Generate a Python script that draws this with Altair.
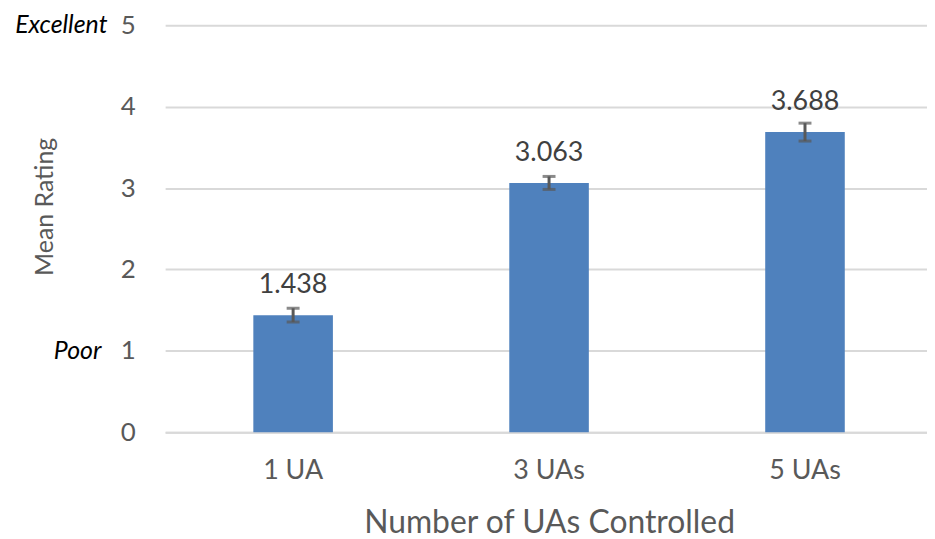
import altair as alt
import pandas as pd

categories = ["1 UA", "3 UAs", "5 UAs"]
means = [1.438, 3.063, 3.688]
errors = [0.085, 0.08, 0.11]
label_text = ["1.438", "3.063", "3.688"]

anno_labels = ["Excellent", "Poor"]
anno_values = [5, 1]

df = pd.DataFrame({"cat": categories, "mean": means, "err": errors, "lbl": label_text})
df["lo"] = df["mean"] - df["err"]
df["hi"] = df["mean"] + df["err"]

FONT = "Lato"
GRAY = "#595959"

xscale = alt.Scale(paddingInner=0.0, paddingOuter=0.0, range=[0, 772])
x = alt.X("cat:N", sort=categories, title="Number of UAs Controlled", scale=xscale,
          axis=alt.Axis(labelAngle=0, labelFontSize=27, labelColor=GRAY, labelFont=FONT,
                        labelPadding=26, ticks=False, domain=True, domainColor="#D9D9D9",
                        domainWidth=2, titleFontSize=32, titleFont=FONT, titleColor=GRAY,
                        titleFontWeight="normal", titlePadding=24))
y = alt.Y("mean:Q", title="Mean Rating",
          scale=alt.Scale(domain=[0, 5], nice=False),
          axis=alt.Axis(values=[0, 1, 2, 3, 4, 5], format="d", labelFontSize=26,
                        labelColor=GRAY, labelFont=FONT, labelPadding=30, ticks=False,
                        domain=False, grid=True, gridColor="#D9D9D9", gridWidth=2,
                        titleFontSize=25, titleFont=FONT, titleColor=GRAY,
                        titleFontWeight="normal", titleX=-121, titleY=182,
                        titleBaseline="middle", titleAlign="center"))

base = alt.Chart(df)
xc = alt.X("cat:N", sort=categories, scale=xscale)
bars = base.mark_bar(size=80, color="#4F81BD").encode(x=x, y=y)
rule = base.mark_rule(color=GRAY, strokeWidth=3).encode(x=xc, y="lo:Q", y2="hi:Q")
cap_lo = base.mark_tick(color=GRAY, thickness=3, size=13, orient="horizontal").encode(
    x=xc, y="lo:Q")
cap_hi = base.mark_tick(color=GRAY, thickness=3, size=13, orient="horizontal").encode(
    x=xc, y="hi:Q")
labels = base.mark_text(fontSize=27, font=FONT, color="#404040", dy=-22,
                        baseline="alphabetic").encode(x=xc, y="mean:Q", text="lbl:N")

adf = pd.DataFrame({"t": anno_labels, "v": anno_values})
ex = alt.Chart(adf[adf.t == "Excellent"]).mark_text(
    fontSize=25, font=FONT, fontStyle="italic", color="#000000", align="right",
    baseline="middle").encode(x=alt.value(-58), y="v:Q", text="t:N")
po = alt.Chart(adf[adf.t == "Poor"]).mark_text(
    fontSize=25, font=FONT, fontStyle="italic", color="#000000", align="right",
    baseline="middle").encode(x=alt.value(-64), y="v:Q", text="t:N")

chart = alt.layer(bars, rule, cap_lo, cap_hi, labels, ex, po).properties(
    width=766, height=409,
    autosize=alt.AutoSizeParams(type="none"),
    padding={"left": 158, "top": 16, "right": 0, "bottom": 106},
).configure_view(stroke=None)

chart.save("out.html", embed_options={"renderer": "svg", "actions": False})
